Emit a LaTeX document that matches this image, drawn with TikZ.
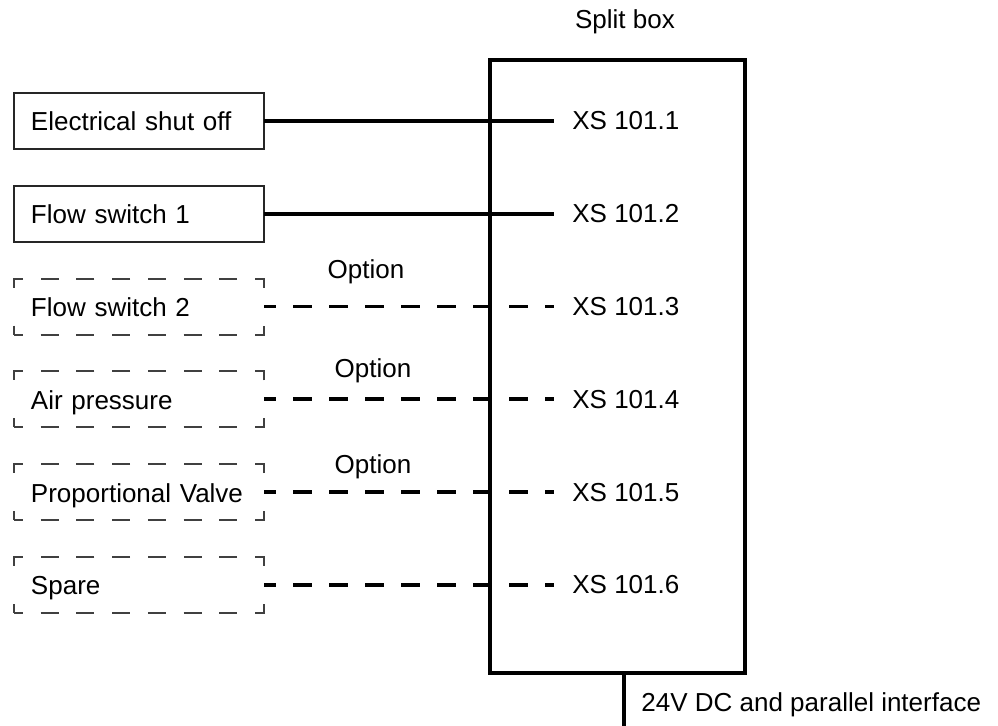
\documentclass[tikz,border=0pt]{standalone}
\usepackage{fontspec}
\setmainfont{Liberation Sans}
\usetikzlibrary{positioning}
\tikzset{
  wire/.style={draw=black, line width=1.8pt},
  optwire/.style={wire, line width=1.9pt, dash pattern=on 9.5pt off 8.5pt, dash phase=3.5pt},
  splitbox/.style={draw=black, line width=1.8pt, outer sep=0pt},
  unitbox/.style={
    draw=black!85,
    line width=1pt,
    minimum width=125pt,
    minimum height=28pt,
    text width=108pt,
    text height=1.25em,
    text depth=0.25em,
    inner xsep=8.5pt,
    align=left,
    outer sep=0pt,
    font=\fontsize{13}{15}\selectfont
  },
  optbox/.style={
    unitbox,
    draw=black!75,
    dash pattern=on 4.5pt off 8.86pt on 9pt off 8.86pt on 9pt off 8.86pt on 9pt off 8.86pt on 9pt off 8.86pt on 9pt off 8.86pt on 9pt off 8.86pt on 9pt off 19pt on 9pt off 8.86pt on 9pt off 8.86pt on 9pt off 8.86pt on 9pt off 8.86pt on 9pt off 8.86pt on 9pt off 8.86pt on 9pt off 8.86pt on 9pt off 19pt on 4.5pt
  },
  lbl/.style={inner sep=0pt, font=\fontsize{13}{15}\selectfont}
}
\begin{document}
\begin{tikzpicture}[x=0.5pt, y=-0.5pt, node distance=18.4pt]
  \useasboundingbox (0,0) rectangle (998,726);

  \node[splitbox, minimum width=127.5pt, minimum height=306.5pt] (split) at (617.5,366.5) {};
  \node[lbl] (splitlbl) at (625,22) {Split box};

  \node[unitbox] (shutoff) at (139,121) {Electrical shut off};
  \node[unitbox, below=of shutoff] (flow1) {Flow switch 1};
  \node[optbox, below=of flow1] (flow2) {Flow switch 2};
  \node[optbox, below=of flow2] (air) {Air pressure};
  \node[optbox, below=of air] (valve) {Proportional Valve};
  \node[optbox, below=of valve] (spare) {Spare};

  \foreach \unit/\pin in {shutoff/1, flow1/2, flow2/3, air/4, valve/5, spare/6} {
    \coordinate (pin\pin) at ([xshift=32pt]split.west |- \unit.east);
    \node[lbl, right=9pt of pin\pin] (xs\pin) {XS 101.\pin};
  }

  \draw[wire] (shutoff) -- (pin1);
  \draw[wire] (flow1) -- (pin2);
  \foreach \unit/\pin in {flow2/3, air/4, valve/5, spare/6}
    \draw[optwire] (\unit) -- (pin\pin);

  \node[lbl] (opt3) at (366,272) {Option};
  \node[lbl] (opt4) at (373,371) {Option};
  \node[lbl] (opt5) at (373,467) {Option};

  \coordinate (feed) at (624,730);
  \draw[wire] (split.south -| feed) -- (feed);
  \node[lbl, anchor=west] (supply) at (641,705) {24V DC and parallel interface};
\end{tikzpicture}
\end{document}
